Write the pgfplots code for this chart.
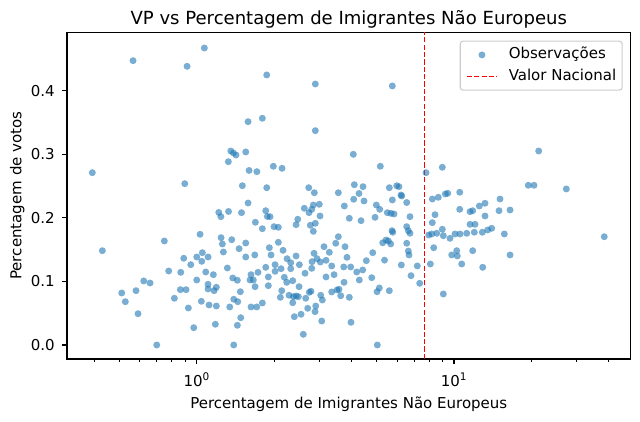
\documentclass[border=0pt]{standalone}
\usepackage{fontspec}
\setmainfont{DejaVu Sans}
\usepackage{pgfplots}
\pgfplotsset{compat=1.18}
\usepackage{pgfplotstable}
\definecolor{tabblue}{RGB}{31,119,180}

\pgfplotstableread{
x y
0.5655 0.4472
1.0704 0.4671
0.9169 0.4383
0.3928 0.2710
0.8981 0.2537
1.5829 0.3512
1.7988 0.3566
1.356 0.3051
1.388 0.3020
1.421 0.2988
1.5505 0.3036
1.3267 0.2883
1.597 0.2745
1.7128 0.2726
1.504 0.2505
0.4296 0.1483
0.7483 0.1636
1.030 0.1741
1.2178 0.2084
1.2410 0.2018
1.329 0.2100
1.493 0.2081
1.583 0.2233
1.6899 0.1930
1.2432 0.1688
1.2578 0.1589
1.2691 0.1463
1.368 0.1656
1.5505 0.1604
1.4605 0.1515
1.5505 0.1384
1.6808 0.1416
1.0514 0.1452
1.000 0.1384
1.1063 0.1384
1.0457 0.1316
0.8901 0.1364
0.9477 0.1263
0.7782 0.1164
0.8666 0.1143
1.0839 0.1148
1.1603 0.1106
1.3149 0.1211
1.3802 0.1054
1.4383 0.1018
1.6255 0.1106
1.6111 0.1022
1.6593 0.1022
1.7304 0.1143
1.000 0.1022
1.1063 0.0955
1.1063 0.0881
1.1917 0.0908
1.1676 0.0854
1.4776 0.0838
1.6854 0.0917
0.6223 0.1007
0.6584 0.0975
0.5807 0.0854
0.5110 0.0818
0.5277 0.0681
0.5912 0.0492
0.8635 0.0870
0.9087 0.0870
0.8185 0.0735
0.9276 0.0582
1.0420 0.0687
1.1164 0.0629
1.1917 0.0613
1.3434 0.0598
1.3925 0.0719
1.4435 0.0681
1.6255 0.0598
1.7113 0.0598
0.9735 0.0272
1.1812 0.0326
1.4825 0.0429
1.4383 0.0310
0.6991 0.0000
1.3925 0.0000
1.8710 0.4247
2.8901 0.4105
5.757 0.4074
2.8901 0.3371
4.0606 0.2999
1.9852 0.2811
2.1456 0.2779
5.170 0.2811
7.785 0.2710
9.006 0.2795
1.8710 0.2474
2.7241 0.2474
2.8643 0.2395
3.5508 0.2395
4.0970 0.2521
4.4291 0.2490
4.2732 0.2383
5.6046 0.2474
5.9876 0.2505
6.112 0.2490
6.222 0.2359
4.075 0.2292
4.469 0.2265
3.747 0.2186
4.989 0.2202
5.143 0.2134
1.8544 0.2112
1.8811 0.2021
1.9271 0.2018
2.6189 0.2150
2.7314 0.2081
2.8388 0.2202
2.9953 0.2213
2.7989 0.2134
3.0141 0.2029
2.4698 0.1977
2.4325 0.1892
2.7634 0.1883
2.8901 0.1914
2.8388 0.1788
3.9177 0.1993
4.3505 0.1955
4.932 0.2008
1.7988 0.1829
1.9977 0.1861
2.0757 0.1851
3.5508 0.1703
3.4692 0.1600
3.7705 0.1546
5.283 0.1607
2.0757 0.1615
1.915 0.1530
1.9445 0.1416
2.1649 0.1489
3.1241 0.1546
3.2757 0.1458
2.4325 0.1400
2.2437 0.1357
2.3192 0.1294
2.5054 0.1263
2.8567 0.1442
2.9344 0.1357
2.8064 0.1310
3.1806 0.1332
3.0222 0.1305
3.838 0.1379
4.831 0.1452
4.5617 0.1326
5.369 0.1334
2.0156 0.1263
2.1265 0.1200
2.3192 0.1200
2.0156 0.1159
2.7989 0.1206
2.6354 0.1128
3.3468 0.1243
3.7270 0.1227
3.9671 0.1227
4.1861 0.1148
4.4171 0.1180
1.8544 0.1222
1.8980 0.1070
2.1903 0.1065
2.3610 0.1011
2.2377 0.0986
3.1806 0.1070
3.4169 0.1106
4.2847 0.1022
4.788 0.1059
3.737 0.0986
1.8980 0.0933
2.4987 0.0917
2.1399 0.0854
2.1132 0.0750
2.2842 0.0782
2.3738 0.0760
2.4325 0.0771
2.3610 0.0665
2.4831 0.0760
2.7388 0.0829
2.7809 0.0845
2.6521 0.0735
3.0331 0.0782
3.0770 0.0708
3.3468 0.0834
3.5098 0.0865
3.5731 0.0876
3.6280 0.0775
3.9177 0.0750
5.125 0.0897
5.020 0.0838
1.7988 0.0661
2.7000 0.0577
2.9006 0.0613
2.8825 0.0524
2.5436 0.0483
2.3951 0.0445
3.0604 0.0377
3.9778 0.0357
2.5955 0.0168
5.0335 0.0000
5.757 0.2281
6.262 0.2344
6.549 0.2241
5.5053 0.2081
5.6904 0.2071
5.8454 0.2060
6.745 0.2018
5.7414 0.1798
5.7776 0.1773
6.549 0.1861
6.643 0.1798
6.745 0.1757
5.442 0.1651
5.555 0.1636
5.6751 0.1589
6.549 0.1600
6.643 0.1478
6.685 0.1416
6.2397 0.1258
7.200 0.1243
6.806 0.1090
7.356 0.0970
5.6046 0.0854
8.234 0.2296
8.689 0.2323
9.252 0.2375
9.452 0.2386
10.524 0.2402
8.435 0.2049
8.234 0.1924
10.524 0.2134
11.539 0.2097
11.821 0.2112
12.541 0.2186
13.197 0.2229
15.094 0.2296
14.960 0.2112
16.509 0.2123
13.197 0.2029
11.539 0.1898
12.067 0.1898
11.992 0.1773
7.975 0.1730
8.190 0.1746
8.566 0.1757
9.006 0.1820
9.087 0.1719
9.648 0.1678
10.090 0.1746
10.552 0.1746
11.203 0.1757
12.882 0.1773
13.519 0.1809
14.012 0.1835
15.686 0.1746
8.337 0.1530
10.244 0.1483
11.821 0.1483
9.796 0.1416
10.300 0.1400
16.509 0.1416
8.090 0.1274
10.713 0.1274
12.928 0.1222
9.087 0.0802
21.34 0.3051
19.445 0.2512
20.46 0.2512
27.32 0.2454
38.38 0.1703
}\obs

\begin{document}
\begin{tikzpicture}
\begin{axis}[
  scale only axis,
  width=405.72pt, height=235.22pt,
  xmode=log,
  xmin=0.3131, xmax=48.53,
  ymin=-0.02202, ymax=0.4918,
  axis line style={line width=0.8pt, black},
  tick align=outside,
  xtick pos=bottom, ytick pos=left,
  major tick length=3.5pt, minor tick length=2pt,
  major tick style={line width=0.8pt, black},
  minor tick style={line width=0.6pt, black},
  xtick={1,10},
  xticklabels={10\textsuperscript{0},10\textsuperscript{1}},
  minor xtick={0.4,0.5,0.6,0.7,0.8,0.9,2,3,4,5,6,7,8,9,20,30,40},
  ytick={0,0.1,0.2,0.3,0.4},
  /pgf/number format/assume math mode=true,
  yticklabel style={/pgf/number format/.cd, fixed, fixed zerofill, precision=1, /tikz/.cd,
    anchor=east, inner sep=0pt, xshift=-5.2pt, font=\fontsize{10.8}{13}\selectfont},
  xticklabel style={anchor=base, inner sep=0pt, yshift=-16pt, font=\fontsize{10.8}{13}\selectfont},
  title={VP vs Percentagem de Imigrantes Não Europeus},
  title style={at={(0.5,1.0234)}, anchor=base, yshift=-6pt, inner sep=0pt, font=\fontsize{13}{15.6}\selectfont},
  xlabel={Percentagem de Imigrantes Não Europeus},
  xlabel style={at={(0.5,-0.1509)}, anchor=base, inner sep=0pt, font=\fontsize{10.8}{13}\selectfont},
  ylabel={Percentagem de votos},
  ylabel style={at={(-0.0808,0.5)}, anchor=base, inner sep=0pt, font=\fontsize{10.8}{13}\selectfont},
  legend style={at={(1,1)}, anchor=north east, xshift=-5.6pt, yshift=-6pt,
    draw=black!20, line width=0.8pt, rounded corners=2pt, fill=white,
    inner xsep=4.3pt, inner ysep=2.2pt, row sep=0pt,
    font=\fontsize{10.8}{13}\selectfont,
    cells={anchor=west},
    nodes={inner ysep=2.75pt, inner xsep=0pt, text height=7.8pt, text depth=2.1pt},
    /tikz/every odd column/.append style={column sep=8pt}},
  legend cell align=left,
]
\addplot[only marks, mark=*, mark size=2.5pt, color=tabblue,
  mark options={fill=tabblue, fill opacity=0.6, draw opacity=0},
  legend image code/.code={\path[draw=none, fill=none] (0pt,-2.5pt) rectangle (21.6pt,2.5pt); \path[draw=none, fill=tabblue!60!white] (10.8pt,0pt) circle (2.5pt);}]
  table[x=x, y=y] {\obs};
\addlegendentry{Observações}
\addplot[red, line width=1pt, dash pattern=on 3.7pt off 1.6pt,
  legend image code/.code={\path[draw=none, fill=none] (0pt,-2.5pt) rectangle (21.6pt,2.5pt); \draw[red, line width=1pt, dash pattern=on 3.7pt off 1.6pt] (0pt,0pt) -- (21.6pt,0pt);}]
  coordinates {(7.67,-0.02202) (7.67,0.4918)};
\addlegendentry{Valor Nacional}
\coordinate (ll) at (rel axis cs:0,0);
\coordinate (ur) at (rel axis cs:1,1);
\end{axis}
\pgfresetboundingbox
\path ([shift={(-48.24pt,-45.36pt)}]ll) rectangle ([shift={(6.84pt,23.26pt)}]ur);
\end{tikzpicture}
\end{document}
